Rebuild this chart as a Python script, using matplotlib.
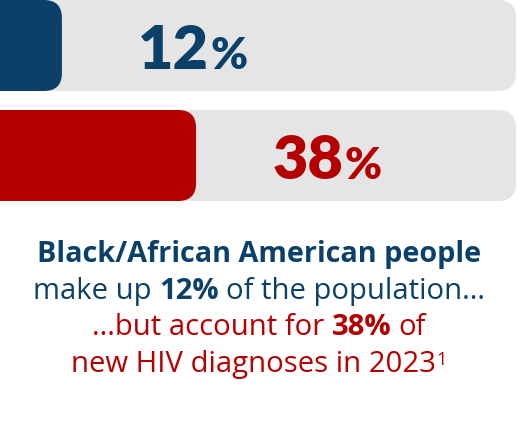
import matplotlib
matplotlib.use("Agg")
import matplotlib.pyplot as plt
from matplotlib.patches import FancyBboxPatch

# data
groups = ["population", "new HIV diagnoses in 2023"]
shares = [12, 38]
bar_colors = ["#0b4068", "#b40000"]
track_color = "#e5e5e5"

caption_lines = [
    [("Black/African American people", True)],
    [("make up", False), ("12%", True), ("of the population...", False)],
    [("...but account for", False), ("38%", True), ("of", False)],
    [("new HIV diagnoses in 2023", False)],
]
caption_colors = ["#0b4068", "#0b4068", "#b40000", "#b40000"]
footnote = "1"

NUM_FONT = "Lato"
CAP_FONT = "Open Sans"
W, H = 518, 444

fig = plt.figure(figsize=(W / 100, H / 100), dpi=100)
fig.patch.set_facecolor("white")

# bar area: top 201 px, 516 px wide
ax = fig.add_axes([0, 1 - 201 / H, 516 / W, 201 / H])
bar_h = 91 / 110
ax.set_xlim(0, 100)
ax.set_ylim(1 + bar_h / 2, -bar_h / 2)
ax.axis("off")

rx = 18 * 100 / 516          # corner radius in x units
aspect = (18 / 110) / rx     # y units per x unit for the rounding


def rounded_bar(x0, y, width, color):
    p = FancyBboxPatch((x0, y - bar_h / 2), width, bar_h,
                       boxstyle=f"round,pad=0,rounding_size={rx}",
                       mutation_aspect=aspect, facecolor=color,
                       edgecolor="none", clip_on=True)
    ax.add_patch(p)


num_texts = []
for i, (val, col) in enumerate(zip(shares, bar_colors)):
    rounded_bar(-5, i, 105, track_color)
    rounded_bar(-5, i, val + 5, col)
    t = ax.text(val + 76 * 100 / 516, i + 23.5 / 110, str(val), fontsize=44,
                fontweight="heavy", family=NUM_FONT, color=col,
                ha="left", va="baseline")
    num_texts.append(t)

fig.canvas.draw()
renderer = fig.canvas.get_renderer()

for i, (t, col) in enumerate(zip(num_texts, bar_colors)):
    bb = t.get_window_extent(renderer)
    x_data = ax.transData.inverted().transform((bb.x1 + 2, 0))[0]
    ax.text(x_data, i + 23.5 / 110, "%", fontsize=32, fontweight="heavy",
            family=NUM_FONT, color=col, ha="left", va="baseline")

# caption block
baselines = [262, 299, 335, 372]
center_x = 259


def text_width(s, bold, size):
    t = fig.text(0, 0, s, fontsize=size, family=CAP_FONT,
                 fontweight="bold" if bold else "normal")
    w = t.get_window_extent(renderer).width
    t.remove()
    return w


def line_width(parts, size):
    sp = text_width("n n", False, size) - text_width("nn", False, size)
    return sum(text_width(s, b, size) for s, b in parts) + sp * (len(parts) - 1)


# sizes chosen so the first two lines span the same width as the reference
head_size = 18 * 447 / line_width(caption_lines[0], 18)
body_size = 18 * 453 / line_width(caption_lines[1], 18)
sizes = [head_size, body_size, body_size, body_size]
sup_size = body_size * 0.62

for li, (parts, col) in enumerate(zip(caption_lines, caption_colors)):
    size = sizes[li]
    space_w = text_width("n n", False, size) - text_width("nn", False, size)
    widths = [text_width(s, b, size) for s, b in parts]
    total = sum(widths) + space_w * (len(parts) - 1)
    extra = 0
    if li == len(caption_lines) - 1:
        extra = text_width(footnote, False, sup_size)
        total += extra
    x = center_x - total / 2
    y = (H - baselines[li]) / H
    for (s, b), w in zip(parts, widths):
        fig.text(x / W, y, s, fontsize=size, family=CAP_FONT,
                 fontweight="bold" if b else "normal", color=col,
                 ha="left", va="baseline")
        x += w + space_w
    if extra:
        x -= space_w
        fig.text(x / W, (H - baselines[li] + 7) / H, footnote,
                 fontsize=sup_size, family=CAP_FONT, color=col,
                 ha="left", va="baseline")

fig.savefig("out.png", dpi=100, facecolor="white")
